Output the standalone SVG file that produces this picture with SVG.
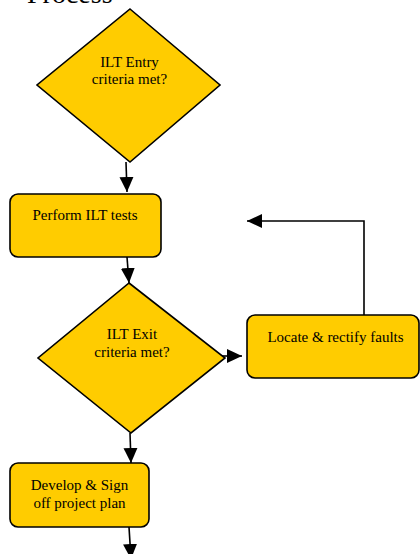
<svg xmlns="http://www.w3.org/2000/svg" width="420" height="554" viewBox="0 0 420 554">
<style>
.node{fill:#FFCC00;stroke:#000;stroke-width:1.6}
.lbl{font-family:"Liberation Serif","Times New Roman",serif;font-size:15px;fill:#000;text-anchor:middle}
.title{font-family:"Liberation Serif","Times New Roman",serif;font-size:28px;fill:#000}
.conn{fill:none;stroke:#000;stroke-width:1.6}
</style>
<defs>
<marker id="ah" markerUnits="userSpaceOnUse" markerWidth="16" markerHeight="16" viewBox="0 0 16 16" refX="15" refY="8" orient="auto">
<path d="M0,1 L15,8 L0,15 Z" fill="#000"/>
</marker>
</defs>
<rect width="420" height="554" fill="#fff"/>
<text class="title" x="27" y="3">Process</text>
<g id="connectors">
<path class="conn" d="M126,162 L127,192" marker-end="url(#ah)"/>
<path class="conn" d="M127,257 L129,283" marker-end="url(#ah)"/>
<path class="conn" d="M212,356 L242,356" marker-end="url(#ah)"/>
<path class="conn" d="M364,315 L364,221 L247,221" marker-end="url(#ah)"/>
<path class="conn" d="M130,433 L131,463" marker-end="url(#ah)"/>
<path class="conn" d="M129,527 L131,559" marker-end="url(#ah)"/>
</g>
<g id="entry">
<polygon class="node" points="130,9 220,85 130,162 37,85"/>
<text class="lbl" x="129.5" y="67">ILT Entry</text>
<text class="lbl" x="129.5" y="84">criteria met?</text>
</g>
<g id="perform">
<rect class="node" x="10" y="194" width="151" height="63" rx="8"/>
<text class="lbl" x="85" y="220">Perform ILT tests</text>
</g>
<g id="exit">
<polygon class="node" points="129,283 225,358 131,433 38,358"/>
<text class="lbl" x="132" y="339">ILT Exit</text>
<text class="lbl" x="132" y="357">criteria met?</text>
</g>
<g id="locate">
<rect class="node" x="247" y="315" width="172" height="63" rx="8"/>
<text class="lbl" x="335.5" y="342">Locate &amp; rectify faults</text>
</g>
<g id="develop">
<rect class="node" x="10" y="463" width="139" height="64" rx="8"/>
<text class="lbl" x="79.5" y="490">Develop &amp; Sign</text>
<text class="lbl" x="79.5" y="508">off project plan</text>
</g>
</svg>
